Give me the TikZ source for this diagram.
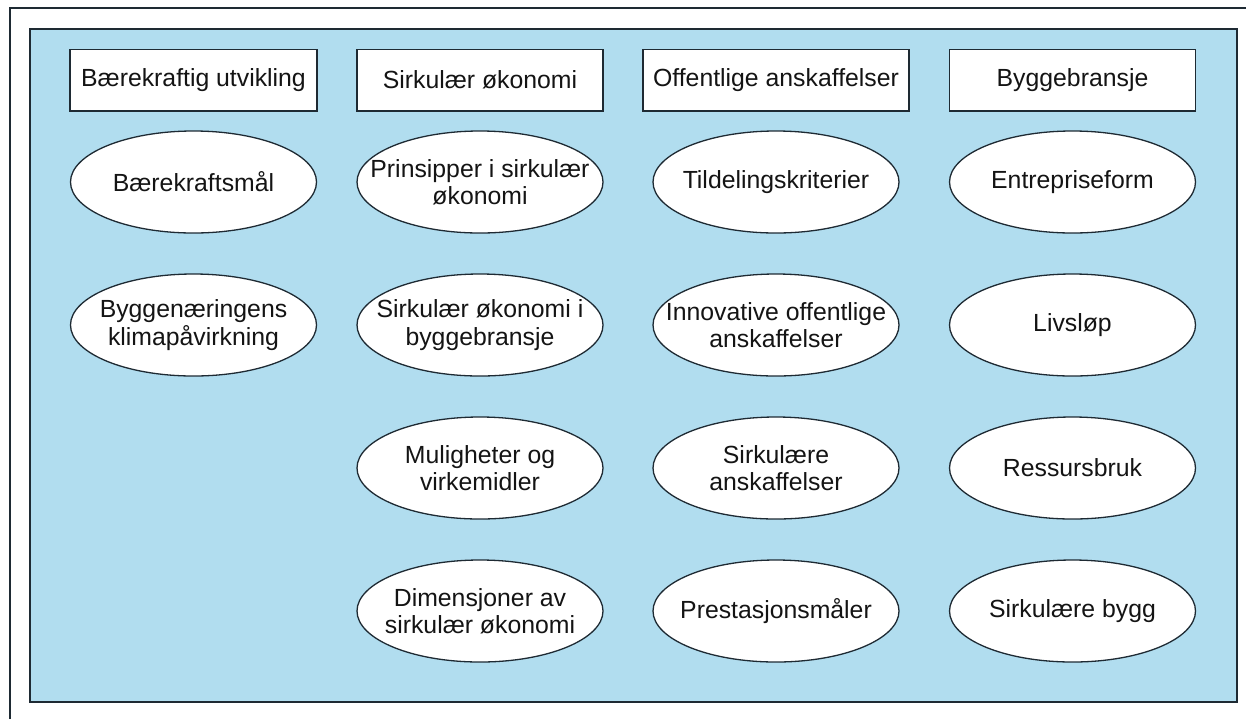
\documentclass[tikz,border=0pt]{standalone}
\usepackage{fontspec}
\setmainfont{Liberation Sans}
\usetikzlibrary{shapes.geometric}
\definecolor{panel}{HTML}{B1DDEF}
\definecolor{edge}{HTML}{1E2A33}
\definecolor{ink}{HTML}{141414}
\begin{document}
\begin{tikzpicture}[x=0.5pt,y=-0.5pt,
  every node/.style={font=\fontsize{12.4}{13.6}\selectfont, text=ink},
  header/.style={draw=edge, line width=0.75pt, fill=white,
    minimum height=30.75pt, inner sep=0pt},
  oval/.style={ellipse, draw=edge, line width=0.65pt, fill=white,
    minimum width=123pt, minimum height=51pt, inner sep=0pt},
  tag/.style={align=center, inner sep=0pt}]
\useasboundingbox (0,0) rectangle (1246,719);

% page frame and panel
\draw[edge, line width=1pt] (10,719) -- (10,8) -- (1246,8);
\draw[edge, fill=panel, line width=0.8pt] (30,29) rectangle (1237,702);

% column headings
\node[header, minimum width=123.5pt] (h1) at (193.5,80) {Bærekraftig utvikling};
\node[header, minimum width=123pt]   (h2) at (480,80)   {Sirkulær økonomi};
\node[header, minimum width=133pt]   (h3) at (776,80)   {Offentlige anskaffelser};
\node[header, minimum width=123pt]   (h4) at (1072.5,80) {Byggebransje};

% column 1
\node[oval] (a1) at (193.5,182) {};
\node[tag]  (a1t) at (a1) {Bærekraftsmål};
\node[oval] (a2) at (193.5,325) {};
\node[tag]  (a2t) at (a2) {Byggenæringens\\klimapåvirkning};

% column 2
\node[oval] (b1) at (480,182) {};
\node[tag]  (b1t) at (b1) {Prinsipper i sirkulær\\økonomi};
\node[oval] (b2) at (480,325) {};
\node[tag]  (b2t) at (b2) {Sirkulær økonomi i\\byggebransje};
\node[oval] (b3) at (480,468) {};
\node[tag]  (b3t) at (b3) {Muligheter og\\virkemidler};
\node[oval] (b4) at (480,611) {};
\node[tag]  (b4t) at (b4) {Dimensjoner av\\sirkulær økonomi};

% column 3
\node[oval] (c1) at (776,182) {};
\node[tag]  (c1t) at (c1) {Tildelingskriterier};
\node[oval] (c2) at (776,325) {};
\node[tag]  (c2t) at (c2) {Innovative offentlige\\anskaffelser};
\node[oval] (c3) at (776,468) {};
\node[tag]  (c3t) at (c3) {Sirkulære\\anskaffelser};
\node[oval] (c4) at (776,611) {};
\node[tag]  (c4t) at (c4) {Prestasjonsmåler};

% column 4
\node[oval] (d1) at (1072.5,182) {};
\node[tag]  (d1t) at (d1) {Entrepriseform};
\node[oval] (d2) at (1072.5,325) {};
\node[tag]  (d2t) at (d2) {Livsløp};
\node[oval] (d3) at (1072.5,468) {};
\node[tag]  (d3t) at (d3) {Ressursbruk};
\node[oval] (d4) at (1072.5,611) {};
\node[tag]  (d4t) at (d4) {Sirkulære bygg};
\end{tikzpicture}
\end{document}
